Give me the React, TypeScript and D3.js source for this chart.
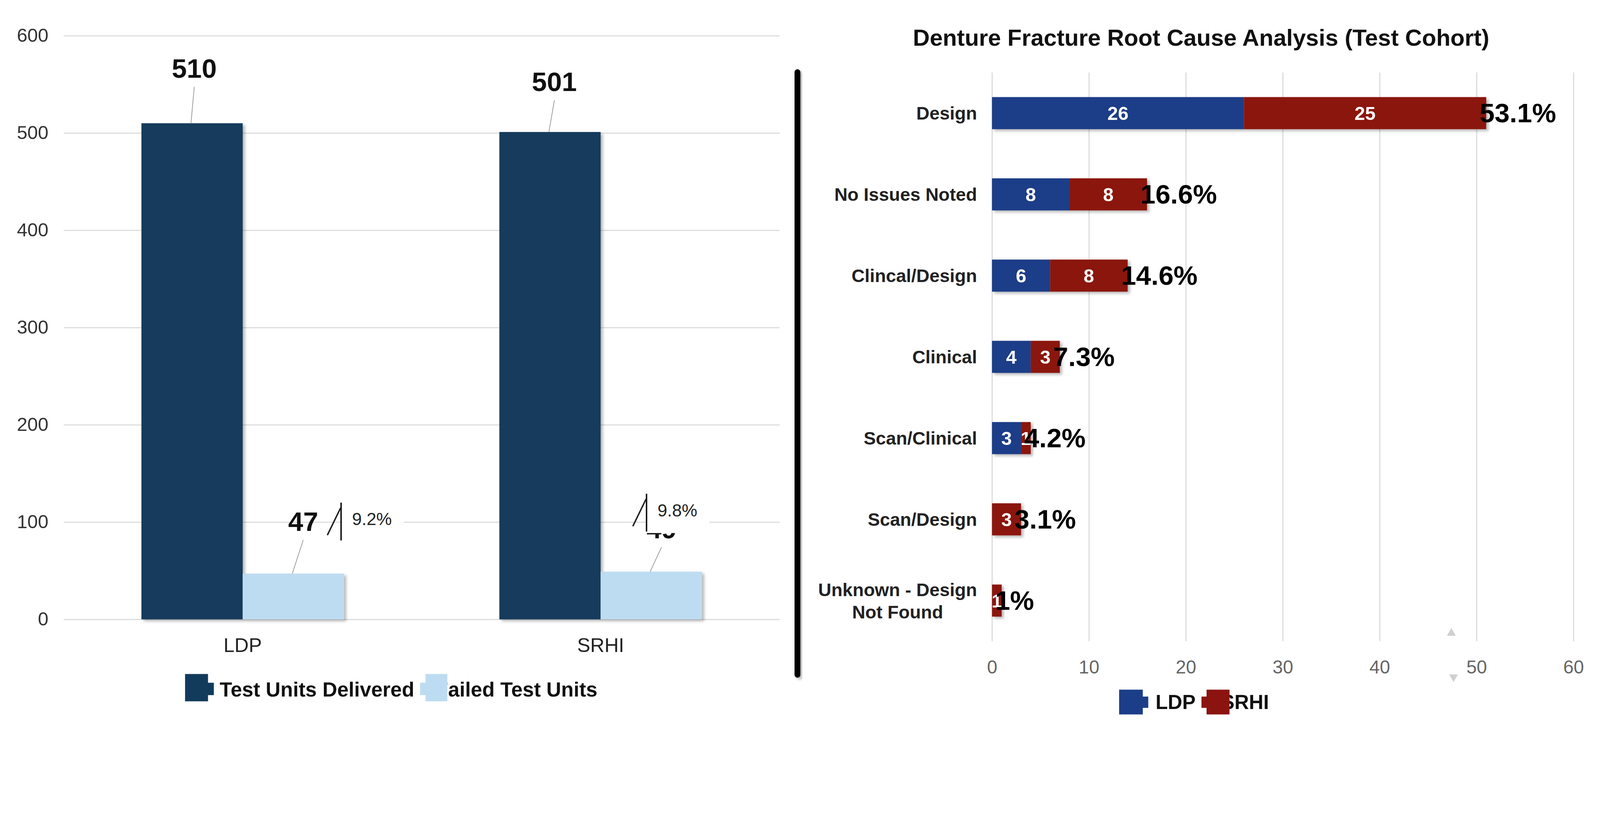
import React, { useEffect, useRef } from 'react';
import * as d3 from 'd3';

// Left chart: delivered vs failed test units
const groups = ['LDP', 'SRHI'];
const delivered = [510, 501];
const failed = [47, 49];
const failedPct = ['9.2%', '9.8%'];
const leftTicks = [0, 100, 200, 300, 400, 500, 600];

// Right chart: root cause breakdown
const causes = [
  'Design',
  'No Issues Noted',
  'Clincal/Design',
  'Clinical',
  'Scan/Clinical',
  'Scan/Design',
  'Unknown - Design Not Found',
];
const ldpCounts = [26, 8, 6, 4, 3, 0, 0];
const srhiCounts = [25, 8, 8, 3, 1, 3, 1];
const causePct = ['53.1%', '16.6%', '14.6%', '7.3%', '4.2%', '3.1%', '1%'];
const rightTicks = [0, 10, 20, 30, 40, 50, 60];

const W = 4392;
const H = 2117;
const FONT = '"Liberation Sans", Arial, sans-serif';

// label placement relative to the bar (Google-sheets style leader labels)
const deliveredLabelOffset = [{ dx: 6, rise: 125 }, { dx: 12, rise: 112 }];
const failedLabelOffset = [{ dx: 27, rise: 117 }, { dx: 28, rise: 92 }];
const calloutOffset = [{ dx: -8, dy: -195 }, { dx: -152, dy: -214 }];

const App: React.FC = () => {
  const svgRef = useRef<SVGSVGElement>(null);

  useEffect(() => {
    if (!svgRef.current) return;
    const svg = d3.select(svgRef.current);
    svg.selectAll('*').remove();

    const defs = svg.append('defs');
    const f = defs
      .append('filter')
      .attr('id', 'shadow')
      .attr('x', '-20%')
      .attr('y', '-20%')
      .attr('width', '150%')
      .attr('height', '150%');
    f.append('feDropShadow')
      .attr('dx', 6)
      .attr('dy', 5)
      .attr('stdDeviation', 4)
      .attr('flood-color', '#000')
      .attr('flood-opacity', 0.28);

    svg.append('rect').attr('width', W).attr('height', H).attr('fill', '#fff');

    // ---------- left chart ----------
    const x0 = d3.scaleBand<string>().domain(groups).range([175, 2140]);
    const x1 = d3
      .scaleBand<string>()
      .domain(['delivered', 'failed'])
      .range([0, x0.bandwidth()])
      .paddingInner(0)
      .paddingOuter(0.767);
    const yL = d3.scaleLinear().domain([0, 600]).range([1700, 98]);

    const left = svg.append('g');

    const yAxis = left
      .append('g')
      .attr('transform', 'translate(175,0)')
      .call(
        d3
          .axisLeft(yL)
          .tickValues(leftTicks)
          .tickSize(-(2140 - 175))
          .tickPadding(42)
      );
    yAxis.select('.domain').remove();
    yAxis.selectAll('line').attr('stroke', '#dadada').attr('stroke-width', 3);
    yAxis
      .selectAll('text')
      .attr('font-family', FONT)
      .attr('font-size', 52)
      .attr('fill', '#333');

    const rows = groups.map((g, i) => ({
      g,
      i,
      delivered: delivered[i],
      failed: failed[i],
    }));

    const gGroups = left
      .selectAll('g.grp')
      .data(rows)
      .join('g')
      .attr('class', 'grp')
      .attr('transform', d => `translate(${x0(d.g)},0)`);

    gGroups
      .append('rect')
      .attr('x', x1('delivered')!)
      .attr('width', x1.bandwidth())
      .attr('y', d => yL(d.delivered))
      .attr('height', d => yL(0) - yL(d.delivered))
      .attr('fill', '#123b5b')
      .attr('filter', 'url(#shadow)');

    gGroups
      .append('rect')
      .attr('x', x1('failed')!)
      .attr('width', x1.bandwidth())
      .attr('y', d => yL(d.failed))
      .attr('height', d => yL(0) - yL(d.failed))
      .attr('fill', '#bddcf2')
      .attr('filter', 'url(#shadow)');

    // value labels with leader lines
    const valueLabel = (
      sel: d3.Selection<SVGGElement, any, any, any>,
      key: 'delivered' | 'failed',
      offs: { dx: number; rise: number }[]
    ) => {
      sel.each(function (d: any) {
        const g = d3.select(this);
        const cx = x1(key)! + x1.bandwidth() / 2;
        const top = yL(d[key]);
        const o = offs[d.i];
        g.append('line')
          .attr('x1', cx - 3)
          .attr('y1', top)
          .attr('x2', cx + o.dx)
          .attr('y2', top - o.rise + 25)
          .attr('stroke', '#9a9a9a')
          .attr('stroke-width', 2);
        g.append('text')
          .attr('x', cx + o.dx)
          .attr('y', top - o.rise)
          .attr('text-anchor', 'middle')
          .attr('font-family', FONT)
          .attr('font-weight', 'bold')
          .attr('font-size', 74)
          .attr('fill', '#111')
          .text(d[key]);
      });
    };
    valueLabel(gGroups as any, 'delivered', deliveredLabelOffset);
    valueLabel(gGroups as any, 'failed', failedLabelOffset);

    // percentage callouts
    gGroups.each(function (d) {
      const g = d3.select(this);
      const bx = x1('failed')! + x1.bandwidth() + calloutOffset[d.i].dx;
      const by = yL(d.failed) + calloutOffset[d.i].dy;
      g.append('rect')
        .attr('x', bx)
        .attr('y', by)
        .attr('width', 172)
        .attr('height', 108)
        .attr('fill', '#fff');
      g.append('line')
        .attr('x1', bx)
        .attr('x2', bx)
        .attr('y1', by)
        .attr('y2', by + 104)
        .attr('stroke', '#111')
        .attr('stroke-width', 4);
      g.append('line')
        .attr('x1', bx - 37)
        .attr('y1', by + 88)
        .attr('x2', bx - 2)
        .attr('y2', by + 16)
        .attr('stroke', '#222')
        .attr('stroke-width', 4)
        .attr('stroke-linecap', 'round');
      g.append('text')
        .attr('x', bx + 30)
        .attr('y', by + 62)
        .attr('font-family', FONT)
        .attr('font-size', 48)
        .attr('fill', '#222')
        .text(failedPct[d.i]);
    });

    left
      .selectAll('text.cat')
      .data(groups)
      .join('text')
      .attr('class', 'cat')
      .attr('x', d => x0(d)! + x0.bandwidth() / 2)
      .attr('y', 1790)
      .attr('text-anchor', 'middle')
      .attr('font-family', FONT)
      .attr('font-size', 54)
      .attr('fill', '#222')
      .text(d => d);

    // left legend
    const legL = left.append('g');
    legL.append('text')
      .attr('x', 603).attr('y', 1912)
      .attr('font-family', FONT).attr('font-weight', 'bold').attr('font-size', 56).attr('fill', '#111')
      .text('Test Units Delivered');
    legL.append('text')
      .attr('x', 1196).attr('y', 1912)
      .attr('font-family', FONT).attr('font-weight', 'bold').attr('font-size', 56).attr('fill', '#111')
      .text('Failed Test Units');
    legL.append('rect').attr('x', 508).attr('y', 1850).attr('width', 63).attr('height', 75).attr('fill', '#123b5b');
    legL.append('rect').attr('x', 570).attr('y', 1874).attr('width', 17).attr('height', 34).attr('fill', '#123b5b');
    legL.append('rect').attr('x', 1153).attr('y', 1874).attr('width', 16).attr('height', 34).attr('fill', '#bddcf2');
    legL.append('rect').attr('x', 1168).attr('y', 1850).attr('width', 60).attr('height', 75).attr('fill', '#bddcf2');

    // separator (rect, so the drop-shadow filter has a non-empty bbox)
    svg.append('rect')
      .attr('x', 2181).attr('y', 190).attr('width', 16).attr('height', 1670).attr('rx', 8)
      .attr('fill', '#000')
      .attr('filter', 'url(#shadow)');

    // ---------- right chart ----------
    const xR = d3.scaleLinear().domain([0, 60]).range([2723, 4319]);
    const yR = d3
      .scaleBand<string>()
      .domain(causes)
      .range([199, 1760])
      .paddingInner(0.605)
      .paddingOuter(0.3025);

    const right = svg.append('g');

    right.append('text')
      .attr('x', 3297).attr('y', 125)
      .attr('text-anchor', 'middle')
      .attr('font-family', FONT).attr('font-weight', 'bold').attr('font-size', 64).attr('fill', '#111')
      .text('Denture Fracture Root Cause Analysis (Test Cohort)');

    const xAxis = right
      .append('g')
      .attr('transform', 'translate(0,1760)')
      .call(
        d3
          .axisBottom(xR)
          .tickValues(rightTicks)
          .tickSize(-(1760 - 199))
          .tickPadding(52)
      );
    xAxis.select('.domain').remove();
    xAxis.selectAll('line').attr('stroke', '#dadada').attr('stroke-width', 3);
    xAxis
      .selectAll('text')
      .attr('font-family', FONT)
      .attr('font-size', 51)
      .attr('fill', '#666');

    const table = causes.map((c, i) => ({ cause: c, ldp: ldpCounts[i], srhi: srhiCounts[i] }));
    const stack = d3.stack<any>().keys(['ldp', 'srhi'])(table);
    const colors: Record<string, string> = { ldp: '#1c3d88', srhi: '#8b1411' };

    const layers = right
      .selectAll('g.layer')
      .data(stack)
      .join('g')
      .attr('class', 'layer')
      .attr('fill', d => colors[d.key]);

    layers
      .selectAll('rect')
      .data(d => d.filter(s => s[1] - s[0] > 0))
      .join('rect')
      .attr('x', s => xR(s[0]))
      .attr('width', s => xR(s[1]) - xR(s[0]))
      .attr('y', s => yR(s.data.cause)!)
      .attr('height', yR.bandwidth())
      .attr('filter', 'url(#shadow)');

    layers
      .selectAll('text')
      .data(d => d.filter(s => s[1] - s[0] > 0).map(s => ({ s, v: s[1] - s[0] })))
      .join('text')
      .attr('x', d => xR((d.s[0] + d.s[1]) / 2))
      .attr('y', d => yR(d.s.data.cause)! + yR.bandwidth() / 2)
      .attr('dy', '0.36em')
      .attr('text-anchor', 'middle')
      .attr('font-family', FONT)
      .attr('font-weight', 'bold')
      .attr('font-size', 52)
      .attr('fill', '#fff')
      .text(d => d.v);

    right
      .selectAll('text.pct')
      .data(table)
      .join('text')
      .attr('class', 'pct')
      .attr('x', (d) => xR(d.ldp + d.srhi) - 18)
      .attr('y', d => yR(d.cause)! + yR.bandwidth() / 2)
      .attr('dy', '0.34em')
      .attr('font-family', FONT)
      .attr('font-weight', 'bold')
      .attr('font-size', 74)
      .attr('fill', '#000')
      .text((d, i) => causePct[i]);

    // category labels (wrapped, centred block right-aligned to the axis)
    const labelRight = xR(0) - 41;
    right
      .selectAll('g.cause')
      .data(causes)
      .join('g')
      .attr('class', 'cause')
      .each(function (c) {
        const g = d3.select(this);
        const lines = c.length > 16 ? ['Unknown - Design', 'Not Found'] : [c];
        const cy = yR(c)! + yR.bandwidth() / 2;
        const texts = lines.map((ln, k) =>
          g.append('text')
            .attr('y', cy + (k - (lines.length - 1) / 2) * 61)
            .attr('dy', '0.36em')
            .attr('font-family', FONT)
            .attr('font-weight', 'bold')
            .attr('font-size', 50)
            .attr('fill', '#222')
            .text(ln)
        );
        const widths = texts.map(t => (t.node() as SVGTextElement).getComputedTextLength());
        const maxW = d3.max(widths) || 0;
        texts.forEach(t => t.attr('x', labelRight - maxW / 2).attr('text-anchor', 'middle'));
      });

    // right legend
    const legR = right.append('g');
    legR.append('text')
      .attr('x', 3172).attr('y', 1946)
      .attr('font-family', FONT).attr('font-weight', 'bold').attr('font-size', 55).attr('fill', '#111')
      .text('LDP');
    legR.append('text')
      .attr('x', 3352).attr('y', 1946)
      .attr('font-family', FONT).attr('font-weight', 'bold').attr('font-size', 55).attr('fill', '#111')
      .text('SRHI');
    legR.append('rect').attr('x', 3072).attr('y', 1893).attr('width', 65).attr('height', 68).attr('fill', colors.ldp);
    legR.append('rect').attr('x', 3136).attr('y', 1912).attr('width', 16).attr('height', 31).attr('fill', colors.ldp);
    legR.append('rect').attr('x', 3298).attr('y', 1912).attr('width', 15).attr('height', 31).attr('fill', colors.srhi);
    legR.append('rect').attr('x', 3312).attr('y', 1893).attr('width', 63).attr('height', 68).attr('fill', colors.srhi);

    // faint scroll arrows near the 50 tick
    const tri = d3.symbol().type(d3.symbolTriangle).size(260);
    right.append('path').attr('d', tri()!).attr('transform', 'translate(3984,1738)').attr('fill', '#d0d0d0');
    right.append('path').attr('d', tri()!).attr('transform', 'translate(3990,1858) rotate(180)').attr('fill', '#d0d0d0');
  }, []);

  return (
    <svg
      ref={svgRef}
      viewBox={`0 0 ${W} ${H}`}
      preserveAspectRatio="xMinYMin meet"
      style={{
        position: 'fixed',
        left: 0,
        top: 0,
        width: '100vw',
        height: '100vh',
        background: '#fff',
      }}
    />
  );
};

export default App;
